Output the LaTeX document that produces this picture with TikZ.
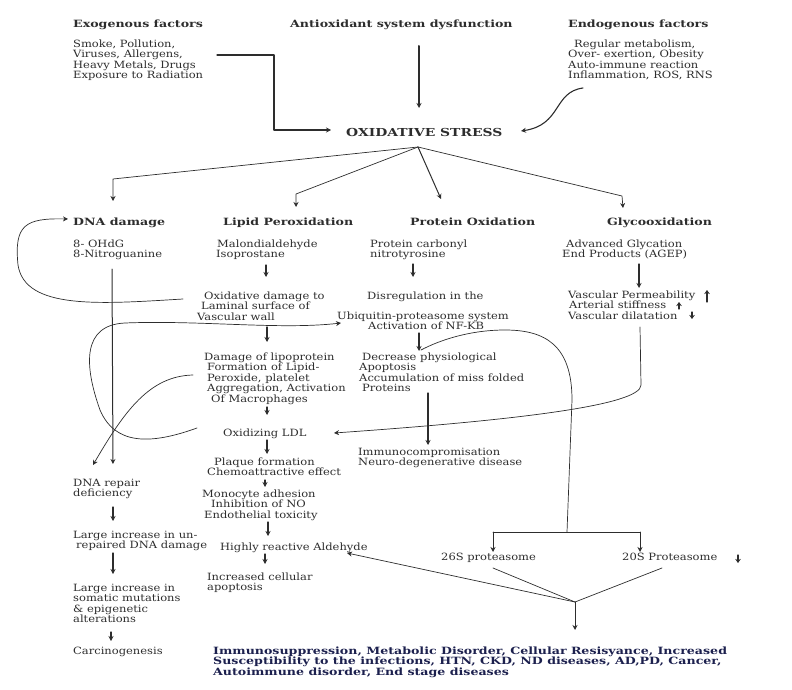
\documentclass[tikz,border=0pt]{standalone}
\usepackage{fontspec}
\setmainfont{DejaVu Serif}[FakeStretch=1.15]
\newfontfamily\hdfont{DejaVu Serif}[FakeStretch=1.26]
\usetikzlibrary{arrows.meta}
\definecolor{ink}{RGB}{45,45,45}
\definecolor{navy}{RGB}{28,32,78}
\tikzset{
	lbl/.style={anchor=north west,yshift=7.5pt,align=left,inner sep=0pt,text=ink,
		font=\fontsize{10}{10.5}\selectfont,execute at begin node={\rule{0pt}{9pt}}},
	head/.style={lbl,font=\fontsize{10}{10.5}\selectfont\hdfont\bfseries},
	arr/.style={->,line width=1.3pt},
	wire/.style={line width=0.7pt}
}
\begin{document}
\begin{tikzpicture}[x=1pt,y=-1pt,line join=round,line cap=round,>={Stealth[length=5pt,width=5pt]},color=ink]
	\useasboundingbox (0,0) rectangle (792,690);
	% top row
	\node[head] (exo) at (73,26) {Exogenous factors};
	\node[head] (anti) at (290,26) {Antioxidant system dysfunction};
	\node[head] (endo) at (568,26) {Endogenous factors};
	\node[lbl] (exolist) at (73,47) {Smoke, Pollution,\\Viruses, Allergens,\\Heavy Metals, Drugs\\Exposure to Radiation};
	\node[lbl] (endolist) at (568,47) {\hspace*{6pt}Regular metabolism,\\Over- exertion, Obesity\\Auto-immune reaction\\Inflammation, ROS, RNS};
	\node[head,font=\fontsize{11}{11}\selectfont\hdfont\bfseries] (ox) at (346,135) {OXIDATIVE STRESS};
	% four branches
	\node[head] (dna) at (73,224) {DNA damage};
	\node[head] (lipid) at (223,224) {Lipid Peroxidation};
	\node[head] (prot) at (410,224) {Protein Oxidation};
	\node[head] (glyco) at (607,224) {Glycooxidation};
	\node[lbl] (dnasub) at (73,247) {8- OHdG\\8-Nitroguanine};
	\node[lbl] (lipsub) at (216,247) {\hspace*{1pt}Malondialdehyde\\Isoprostane};
	\node[lbl] (protsub) at (370,247) {Protein carbonyl\\nitrotyrosine};
	\node[lbl] (glysub) at (562,247) {\hspace*{4pt}Advanced Glycation\\End Products (AGEP)};
	% middle
	\node[lbl] (oxdam) at (197,299) {\hspace*{7pt}Oxidative damage to\\\hspace*{4pt}Laminal surface of\\Vascular wall};
	\node[lbl] (disreg) at (367,298) {Disregulation in the};
	\node[lbl] (ubiq) at (337,319) {Ubiquitin-proteasome system\\\hspace*{31pt}Activation of NF-KB};
	\node[lbl] (vasc) at (568,298) {Vascular Permeability\\\hspace*{1pt}Arterial stiffness\\Vascular dilatation};
	\node[lbl] (lipo) at (204,360) {Damage of lipoprotein\\\hspace*{3pt}Formation of Lipid-\\\hspace*{3pt}Peroxide, platelet\\\hspace*{3pt}Aggregation, Activation\\\hspace*{7pt}Of Macrophages};
	\node[lbl] (decr) at (359,360) {\hspace*{3pt}Decrease physiological\\Apoptosis\\Accumulation of miss folded\\\hspace*{3pt}Proteins};
	\node[lbl] (ldl) at (223,435) {Oxidizing LDL};
	\node[lbl] (immuno) at (358,455) {Immunocompromisation\\Neuro-degenerative disease};
	\node[lbl] (plaque) at (207,465) {\hspace*{7pt}Plaque formation\\Chemoattractive effect};
	\node[lbl] (mono) at (202,497) {Monocyte adhesion\\\hspace*{9pt}Inhibition of NO\\\hspace*{2pt}Endothelial toxicity};
	\node[lbl] (ald) at (220,549) {Highly reactive Aldehyde};
	\node[lbl] (apop) at (207,580) {Increased cellular\\apoptosis};
	% DNA column
	\node[lbl] (repair) at (73,486) {DNA repair\\deficiency};
	\node[lbl] (unrep) at (73,538) {Large increase in un-\\\hspace*{3pt}repaired DNA damage};
	\node[lbl] (somatic) at (73,591) {Large increase in\\somatic mutations\\\& epigenetic\\alterations};
	\node[lbl] (carc) at (73,653) {Carcinogenesis};
	% proteasome and outcome
	\node[lbl] (p26) at (441,559) {26S proteasome};
	\node[lbl] (p20) at (622,559) {20S Proteasome};
	\node[head,text=navy] (outcome) at (213,654) {Immunosuppression, Metabolic Disorder, Cellular Resisyance, Increased\\Susceptibility to the infections, HTN, CKD, ND diseases, AD,PD, Cancer,\\Autoimmune disorder, End stage diseases};
	
	\path 
	(217,55) coordinate (e1)
	(274,55) coordinate (e2)
	(274,130) coordinate (e3)
	(331,130) coordinate (e4)
	(419,46) coordinate (a1)
	(419,108) coordinate (a2)
	(583,88) coordinate (n1)
	(521,131) coordinate (n2)
	(418,147) coordinate (br)
	(113,179) coordinate (d1)
	(113,201) coordinate (d2)
	(296,194) coordinate (l1)
	(296,207) coordinate (l2)
	(441,199) coordinate (p1)
	(622,196) coordinate (g1)
	(623,208) coordinate (g2)
	(266,265) coordinate (la)
	(266,277) coordinate (lb)
	(413,264) coordinate (pa)
	(413,277) coordinate (pb)
	(639,264) coordinate (ga)
	(639,288) coordinate (gb)
	(112,269) coordinate (va)
	(113,464) coordinate (vb)
	(267,327) coordinate (lc)
	(267,342) coordinate (ld)
	(419,333) coordinate (ua)
	(419,351) coordinate (ub)
	(267,407) coordinate (le)
	(267,415) coordinate (lf)
	(267,440) coordinate (lg)
	(267,454) coordinate (lh)
	(265,480) coordinate (li)
	(265,487) coordinate (lj)
	(268,522) coordinate (lk)
	(268,536) coordinate (ll)
	(265,554) coordinate (lm)
	(265,564) coordinate (ln)
	(428,393) coordinate (pc)
	(428,445) coordinate (pd)
	(113,507) coordinate (da)
	(113,521) coordinate (db)
	(113,553) coordinate (dc)
	(113,574) coordinate (dd)
	(111,632) coordinate (de)
	(111,641) coordinate (df)
	(183,299) coordinate (k1)
	(68,219) coordinate (k2)
	(197,428) coordinate (u1)
	(341,323) coordinate (u2)
	(193,375) coordinate (f1)
	(93,465) coordinate (f2)
	(640,327) coordinate (v1)
	(641,385) coordinate (v2)
	(334,433) coordinate (v3)
	(421,350) coordinate (s1)
	(572,400) coordinate (s2)
	(567,532) coordinate (s3)
	(493,532) coordinate (s4)
	(640,532) coordinate (s5)
	(493,552) coordinate (s6)
	(640,552) coordinate (s7)
	(493,568) coordinate (q1)
	(662,568) coordinate (q2)
	(575,602) coordinate (cv)
	(575,630) coordinate (co)
	(347,553) coordinate (q3)
	;
	% into oxidative stress
	\draw[->,line width=1.1pt] (e1)--(e2)--(e3)--(e4);
	\draw[->,line width=2pt] (a1)--(a2);
	\draw[->,line width=1.1pt] (n1) .. controls (553,92) and (562,125) .. (n2);
	% branches
	\draw[wire,->] (br)--(d1)--(d2);
	\draw[wire,->] (br)--(l1)--(l2);
	\draw[->,line width=1pt] (br)--(p1);
	\draw[wire,->] (br)--(g1)--(g2);
	\foreach \a/\b in {la/lb,pa/pb,ga/gb,lc/ld,ua/ub,le/lf,lg/lh,li/lj,lk/ll,lm/ln,pc/pd,da/db,dc/dd,de/df}
	\draw[arr] (\a)--(\b);
	\draw[->,line width=1pt] (va)--(vb);
	% curved links
	\draw[wire,->] (k1) .. controls (100,304) and (25,310) .. (18,265) .. controls (14,225) and (25,218) .. (k2);
	\draw[wire,->] (u1) .. controls (150,445) and (115,445) .. (100,410) .. controls (84,365) and (82,325) .. (125,323) .. controls (200,320) and (280,330) .. (u2);
	\draw[wire,->] (f1) .. controls (150,376) and (125,410) .. (f2);
	\draw[wire,->] (v1)--(v2) .. controls (641,405) and (520,420) .. (v3);
	\draw[wire] (s1) .. controls (440,340) and (470,330) .. (505,330) .. controls (545,330) and (572,345) .. (s2)--(s3);
	\draw[wire] (s4)--(s5);
	\draw[wire,->] (s4)--(s6);
	\draw[wire,->] (s5)--(s7);
	% towards the outcome
	\draw[wire] (q1)--(cv)--(q2);
	\draw[wire,->] (cv)--(q3);
	\draw[->,line width=1pt] (cv)--(co);
	% up and down marks
	\foreach \x/\y/\dy in {707/302/-12,679/309/-7,692/312/7,738/555/8}
	\draw[-{Stealth[length=4pt,width=5.5pt]},line width=1.3pt] (\x,\y)--++(0,\dy);
\end{tikzpicture}
\end{document}
